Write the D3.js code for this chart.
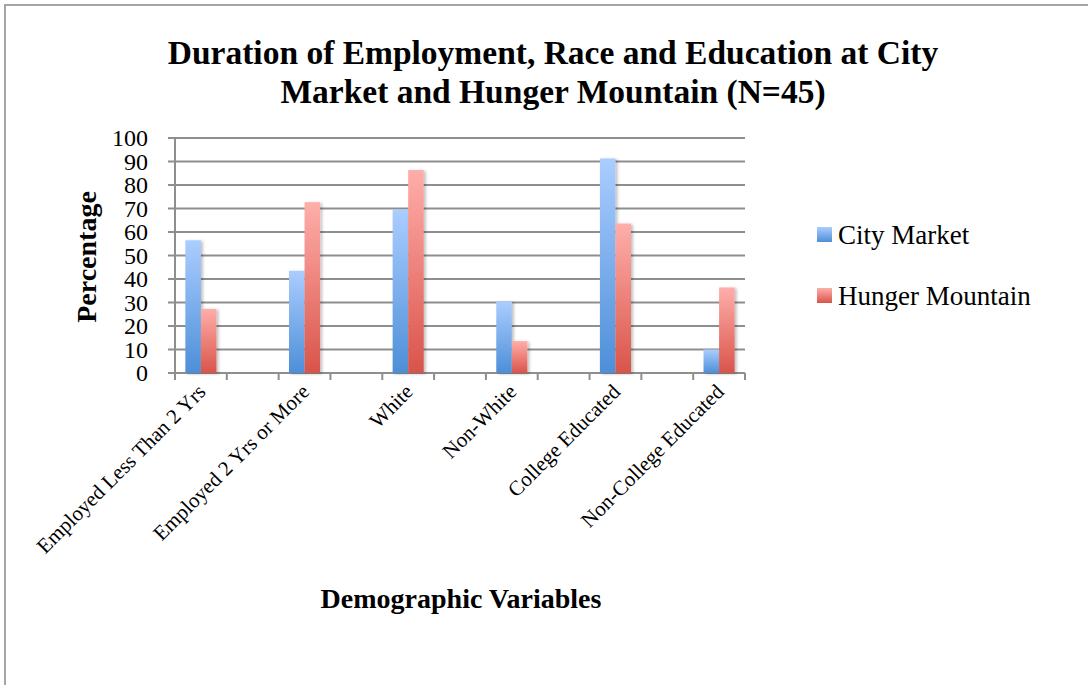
<!DOCTYPE html>
<html>
<head>
<meta charset="utf-8">
<script src="https://cdn.jsdelivr.net/npm/d3@7"></script>
<style>
  body { margin: 0; background: #fff; }
  text { font-family: "Liberation Serif", "DejaVu Serif", serif; fill: #000; }
</style>
</head>
<body>
<svg id="chart" width="1088" height="685"></svg>
<script>
// data
const categories = ["Employed Less Than 2 Yrs", "", "Employed 2 Yrs or More", "", "White", "",
  "Non-White", "", "College Educated", "", "Non-College Educated"];
const seriesNames = ["City Market", "Hunger Mountain"];
const cityMarket = [56.5, null, 43.5, null, 69.6, null, 30.4, null, 91.3, null, 10];
const hungerMountain = [27.3, null, 72.7, null, 86.4, null, 13.6, null, 63.6, null, 36.4];
const yTicks = [0, 10, 20, 30, 40, 50, 60, 70, 80, 90, 100];

const svg = d3.select("#chart");
const margin = ({top: 138, left: 175, right: 343, bottom: 312});
const width = 1088 - margin.left - margin.right;
const height = 685 - margin.top - margin.bottom;

// frame
svg.append("path")
  .attr("d", "M5,685 L5,5 L1088,5")
  .attr("fill", "none")
  .attr("stroke", "#a6a6a6")
  .attr("stroke-width", 2);

// gradients
const defs = svg.append("defs");
const grads = [["gBlue", "#abcdff", "#4d8fd8"], ["gRed", "#ffaeaa", "#d9544a"]];
grads.forEach(([id, c1, c2]) => {
  const lg = defs.append("linearGradient").attr("id", id)
    .attr("x1", 0).attr("y1", 0).attr("x2", 0).attr("y2", 1);
  lg.append("stop").attr("offset", "0%").attr("stop-color", c1);
  lg.append("stop").attr("offset", "100%").attr("stop-color", c2);
});
const shadow = defs.append("filter").attr("id", "shadow")
  .attr("x", "-20%").attr("y", "-5%").attr("width", "160%").attr("height", "120%");
shadow.append("feDropShadow").attr("dx", 2).attr("dy", 1).attr("stdDeviation", 1.5)
  .attr("flood-color", "#000").attr("flood-opacity", 0.25);

const g = svg.append("g").attr("transform", `translate(${margin.left},${margin.top})`);

const x = d3.scaleBand().domain(d3.range(categories.length)).range([0, width]).padding(0);
const xs = d3.scaleBand().domain([0, 1]).range([0, x.bandwidth() * 0.6]);
const y = d3.scaleLinear().domain([0, 100]).range([height, 0]);

// gridlines
g.append("g")
  .selectAll("line")
  .data(yTicks)
  .join("line")
  .attr("x1", -7).attr("x2", width)
  .attr("y1", d => y(d)).attr("y2", d => y(d))
  .attr("stroke", "#8e8e8e")
  .attr("stroke-width", 2);

// y axis line
g.append("line")
  .attr("x1", 0).attr("x2", 0)
  .attr("y1", 0).attr("y2", height + 7)
  .attr("stroke", "#8e8e8e").attr("stroke-width", 2);

// x ticks
g.append("g")
  .selectAll("line")
  .data(d3.range(categories.length + 1))
  .join("line")
  .attr("x1", d => d * x.step()).attr("x2", d => d * x.step())
  .attr("y1", height).attr("y2", height + 7)
  .attr("stroke", "#8e8e8e").attr("stroke-width", 2);

// y labels
g.append("g")
  .selectAll("text")
  .data(yTicks)
  .join("text")
  .attr("x", -27)
  .attr("y", d => y(d))
  .attr("dy", "0.35em")
  .attr("text-anchor", "end")
  .attr("font-size", 24)
  .text(d => d);

// bars
const series = [cityMarket, hungerMountain];
const fills = ["url(#gBlue)", "url(#gRed)"];
series.forEach((vals, si) => {
  g.append("g")
    .selectAll("rect")
    .data(vals.map((v, i) => ({v, i})).filter(d => d.v != null))
    .join("rect")
    .attr("x", d => x(d.i) + (x.bandwidth() - xs.range()[1]) / 2 + xs(si))
    .attr("width", xs.bandwidth())
    .attr("y", d => y(d.v))
    .attr("height", d => height - y(d.v))
    .attr("fill", fills[si])
    .attr("filter", "url(#shadow)");
});

// x labels
g.append("g")
  .selectAll("text")
  .data(categories.map((c, i) => ({c, i})).filter(d => d.c))
  .join("text")
  .attr("transform", d => `translate(${x(d.i) + x.bandwidth() / 2 + 6},${height + 20}) rotate(-45)`)
  .attr("text-anchor", "end")
  .attr("font-size", 21)
  .text(d => d.c);

// title
svg.append("text")
  .attr("x", 553).attr("y", 64)
  .attr("text-anchor", "middle")
  .attr("font-size", 33.5).attr("font-weight", "bold")
  .text("Duration of Employment, Race and Education at City");
svg.append("text")
  .attr("x", 553).attr("y", 103)
  .attr("text-anchor", "middle")
  .attr("font-size", 33.5).attr("font-weight", "bold")
  .text("Market and Hunger Mountain (N=45)");

// axis titles
svg.append("text")
  .attr("transform", "translate(96,257) rotate(-90)")
  .attr("text-anchor", "middle")
  .attr("font-size", 28).attr("font-weight", "bold")
  .text("Percentage");
svg.append("text")
  .attr("x", 461).attr("y", 608)
  .attr("text-anchor", "middle")
  .attr("font-size", 28).attr("font-weight", "bold")
  .text("Demographic Variables");

// legend
const legend = svg.append("g").attr("transform", "translate(817,227)");
seriesNames.forEach((name, i) => {
  const row = legend.append("g").attr("transform", `translate(0,${i * 61})`);
  row.append("rect").attr("width", 15).attr("height", 15).attr("fill", fills[i]);
  row.append("text").attr("x", 21).attr("y", 8).attr("dy", "0.35em")
    .attr("font-size", 27).text(name);
});
</script>
</body>
</html>
